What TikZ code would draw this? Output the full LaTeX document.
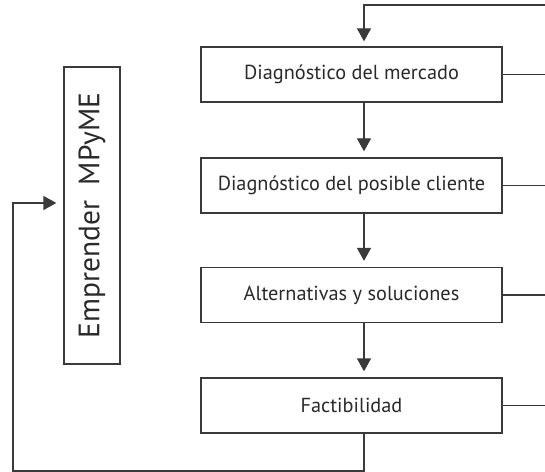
\documentclass[tikz,border=0pt]{standalone}
\usepackage{fontspec}
\setmainfont{PT Sans}
\usetikzlibrary{arrows.meta}
\definecolor{ln}{HTML}{3A3A3A}
\definecolor{tx}{HTML}{2A2A2A}
\begin{document}
\begin{tikzpicture}[x=1pt,y=1pt,
  box/.style={draw=ln,line width=1.3pt,minimum width=301pt,minimum height=55pt,inner sep=0pt,text=tx,font=\fontsize{20.3}{24}\selectfont},
  conn/.style={draw=ln,line width=1.3pt},
  arr/.style={conn,-{Triangle[width=14pt,length=13pt]}}]
\useasboundingbox (0,0) rectangle (545,471);
\fill[white] (0,0) rectangle (545,471);
\node[box] (b1) at (351.5,396.5) {Diagnóstico del mercado};
\node[box] (b2) at (351.5,285.5) {Diagnóstico del posible cliente};
\node[box] (b3) at (351.5,176) {Alternativas y soluciones};
\node[box] (b4) at (351.5,65.5) {Factibilidad};
\node[draw=ln,line width=1.3pt,minimum width=56pt,minimum height=297pt,inner sep=0pt,text=tx] (em) at (92,255.5)
  {\rotatebox{90}{\fontsize{29.5}{32}\selectfont Emprender\ \ MPyME}};
\coordinate (ax) at (364,0);
\coordinate (tr) at (546,466);
\coordinate (tl) at (364,466);
\coordinate (br) at (364,0);
\coordinate (bl) at (13,0);
\coordinate (lu) at (13,268);
\coordinate (r1) at (546,396.5);
\coordinate (r2) at (546,285.5);
\coordinate (r3) at (546,176);
\coordinate (r4) at (546,65.5);
\draw[arr,shorten >=5pt] (tr) -- (tl) -- (b1.north -| ax);
\draw[arr,shorten >=6pt] (b1.south -| ax) -- (b2.north -| ax);
\draw[arr,shorten >=6pt] (b2.south -| ax) -- (b3.north -| ax);
\draw[arr,shorten >=6pt] (b3.south -| ax) -- (b4.north -| ax);
\draw[arr,shorten >=7pt] (b4.south -| ax) -- (br) -- (bl) -- (lu) -- (lu -| em.west);
\draw[conn] (b1.east) -- (r1);
\draw[conn] (b2.east) -- (r2);
\draw[conn] (b3.east) -- (r3);
\draw[conn] (b4.east) -- (r4);
\end{tikzpicture}
\end{document}
